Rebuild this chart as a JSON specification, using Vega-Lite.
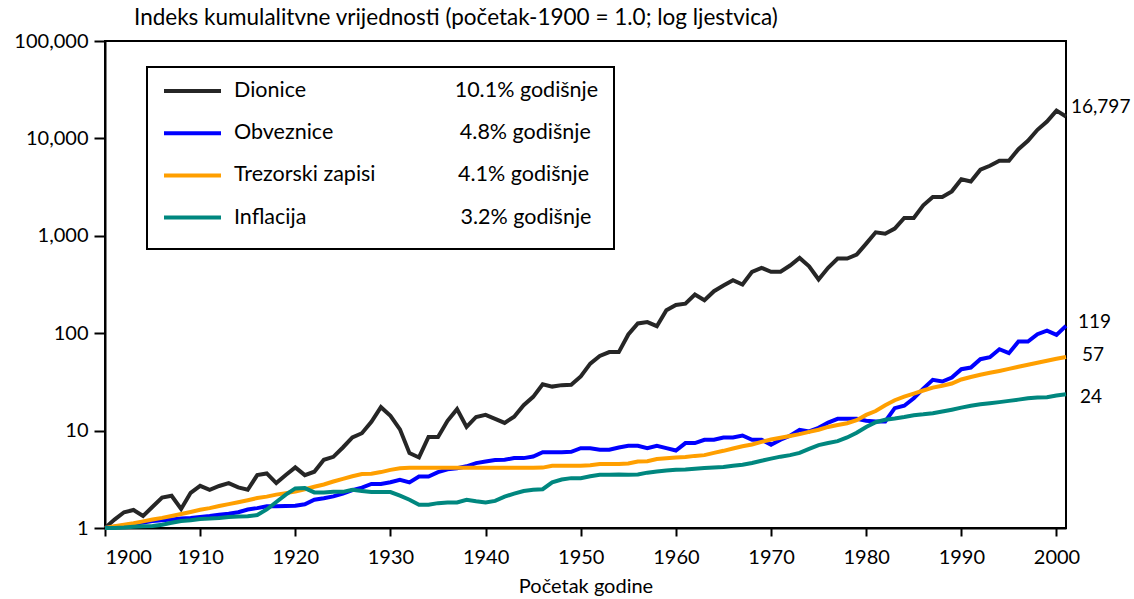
{
  "$schema": "https://vega.github.io/schema/vega-lite/v6.json",
  "width": 961,
  "height": 487,
  "autosize": "none",
  "padding": {"left": 105, "top": 41, "right": 68, "bottom": 71},
  "background": "white",
  "config": {
    "font": "Lato",
    "view": {"stroke": "black", "strokeWidth": 2},
    "axis": {"domainColor": "black", "domainWidth": 2, "tickColor": "black", "tickWidth": 2, "labelColor": "black", "labelFont": "Lato", "labelFontSize": 20, "titleFont": "Lato", "titleFontSize": 20, "titleFontWeight": "normal", "titleColor": "black", "grid": false},
    "legend": {
      "orient": "none", "legendX": 42, "legendY": 26,
      "strokeColor": "black", "strokeWidth": 2, "padding": 15,
      "symbolType": "stroke", "symbolSize": 3249, "symbolStrokeWidth": 4,
      "clipHeight": 18, "rowPadding": 20.2, "labelOffset": 11,
      "labelFontSize": 21.5, "labelFont": "Lato", "labelColor": "black", "labelLimit": 600,
      "titleOrient": "bottom", "titleFontSize": 6, "titlePadding": 0
    }
  },
  "title": {"text": "Indeks kumulalitvne vrijednosti (početak-1900 = 1.0; log ljestvica)", "anchor": "start", "frame": "group", "dx": 29, "offset": 2, "fontSize": 22.5, "fontWeight": "normal", "font": "Lato", "color": "black"},
  "data": {"values": [
    {"year":1900,"Dionice":1,"Obveznice":1,"Trezorski zapisi":1,"Inflacija":1},
    {"year":1901,"Dionice":1.22,"Obveznice":1.03,"Trezorski zapisi":1.04,"Inflacija":1.0},
    {"year":1902,"Dionice":1.45,"Obveznice":1.06,"Trezorski zapisi":1.08,"Inflacija":1.01},
    {"year":1903,"Dionice":1.53,"Obveznice":1.1,"Trezorski zapisi":1.12,"Inflacija":1.03},
    {"year":1904,"Dionice":1.33,"Obveznice":1.14,"Trezorski zapisi":1.17,"Inflacija":1.04},
    {"year":1905,"Dionice":1.65,"Obveznice":1.18,"Trezorski zapisi":1.22,"Inflacija":1.05},
    {"year":1906,"Dionice":2.05,"Obveznice":1.2,"Trezorski zapisi":1.27,"Inflacija":1.08},
    {"year":1907,"Dionice":2.14,"Obveznice":1.22,"Trezorski zapisi":1.33,"Inflacija":1.13},
    {"year":1908,"Dionice":1.57,"Obveznice":1.25,"Trezorski zapisi":1.39,"Inflacija":1.18},
    {"year":1909,"Dionice":2.3,"Obveznice":1.27,"Trezorski zapisi":1.46,"Inflacija":1.2},
    {"year":1910,"Dionice":2.71,"Obveznice":1.3,"Trezorski zapisi":1.54,"Inflacija":1.24},
    {"year":1911,"Dionice":2.47,"Obveznice":1.33,"Trezorski zapisi":1.6,"Inflacija":1.25},
    {"year":1912,"Dionice":2.7,"Obveznice":1.37,"Trezorski zapisi":1.68,"Inflacija":1.27},
    {"year":1913,"Dionice":2.89,"Obveznice":1.4,"Trezorski zapisi":1.76,"Inflacija":1.3},
    {"year":1914,"Dionice":2.61,"Obveznice":1.45,"Trezorski zapisi":1.84,"Inflacija":1.31},
    {"year":1915,"Dionice":2.47,"Obveznice":1.55,"Trezorski zapisi":1.93,"Inflacija":1.32},
    {"year":1916,"Dionice":3.49,"Obveznice":1.6,"Trezorski zapisi":2.03,"Inflacija":1.36},
    {"year":1917,"Dionice":3.63,"Obveznice":1.67,"Trezorski zapisi":2.1,"Inflacija":1.55},
    {"year":1918,"Dionice":2.89,"Obveznice":1.67,"Trezorski zapisi":2.2,"Inflacija":1.85},
    {"year":1919,"Dionice":3.5,"Obveznice":1.68,"Trezorski zapisi":2.28,"Inflacija":2.2},
    {"year":1920,"Dionice":4.19,"Obveznice":1.69,"Trezorski zapisi":2.37,"Inflacija":2.55},
    {"year":1921,"Dionice":3.49,"Obveznice":1.75,"Trezorski zapisi":2.5,"Inflacija":2.57},
    {"year":1922,"Dionice":3.78,"Obveznice":1.95,"Trezorski zapisi":2.65,"Inflacija":2.32},
    {"year":1923,"Dionice":5.01,"Obveznice":2.02,"Trezorski zapisi":2.8,"Inflacija":2.32},
    {"year":1924,"Dionice":5.38,"Obveznice":2.11,"Trezorski zapisi":3.0,"Inflacija":2.35},
    {"year":1925,"Dionice":6.71,"Obveznice":2.25,"Trezorski zapisi":3.2,"Inflacija":2.35},
    {"year":1926,"Dionice":8.5,"Obveznice":2.45,"Trezorski zapisi":3.4,"Inflacija":2.47},
    {"year":1927,"Dionice":9.4,"Obveznice":2.6,"Trezorski zapisi":3.58,"Inflacija":2.4},
    {"year":1928,"Dionice":12.3,"Obveznice":2.83,"Trezorski zapisi":3.6,"Inflacija":2.34},
    {"year":1929,"Dionice":17.4,"Obveznice":2.83,"Trezorski zapisi":3.75,"Inflacija":2.34},
    {"year":1930,"Dionice":14.2,"Obveznice":2.95,"Trezorski zapisi":3.95,"Inflacija":2.34},
    {"year":1931,"Dionice":10.3,"Obveznice":3.13,"Trezorski zapisi":4.1,"Inflacija":2.15},
    {"year":1932,"Dionice":5.87,"Obveznice":2.94,"Trezorski zapisi":4.15,"Inflacija":1.95},
    {"year":1933,"Dionice":5.3,"Obveznice":3.38,"Trezorski zapisi":4.15,"Inflacija":1.73},
    {"year":1934,"Dionice":8.6,"Obveznice":3.38,"Trezorski zapisi":4.15,"Inflacija":1.73},
    {"year":1935,"Dionice":8.6,"Obveznice":3.75,"Trezorski zapisi":4.15,"Inflacija":1.8},
    {"year":1936,"Dionice":12.6,"Obveznice":4.0,"Trezorski zapisi":4.15,"Inflacija":1.83},
    {"year":1937,"Dionice":16.6,"Obveznice":4.1,"Trezorski zapisi":4.15,"Inflacija":1.83},
    {"year":1938,"Dionice":10.9,"Obveznice":4.3,"Trezorski zapisi":4.15,"Inflacija":1.95},
    {"year":1939,"Dionice":13.8,"Obveznice":4.64,"Trezorski zapisi":4.15,"Inflacija":1.88},
    {"year":1940,"Dionice":14.5,"Obveznice":4.82,"Trezorski zapisi":4.15,"Inflacija":1.83},
    {"year":1941,"Dionice":13.2,"Obveznice":5.0,"Trezorski zapisi":4.15,"Inflacija":1.9},
    {"year":1942,"Dionice":12.0,"Obveznice":5.02,"Trezorski zapisi":4.15,"Inflacija":2.1},
    {"year":1943,"Dionice":13.9,"Obveznice":5.22,"Trezorski zapisi":4.16,"Inflacija":2.25},
    {"year":1944,"Dionice":18.2,"Obveznice":5.22,"Trezorski zapisi":4.16,"Inflacija":2.4},
    {"year":1945,"Dionice":22.2,"Obveznice":5.42,"Trezorski zapisi":4.16,"Inflacija":2.47},
    {"year":1946,"Dionice":29.9,"Obveznice":6.0,"Trezorski zapisi":4.17,"Inflacija":2.5},
    {"year":1947,"Dionice":28.3,"Obveznice":6.0,"Trezorski zapisi":4.35,"Inflacija":2.94},
    {"year":1948,"Dionice":29.3,"Obveznice":6.0,"Trezorski zapisi":4.35,"Inflacija":3.15},
    {"year":1949,"Dionice":29.5,"Obveznice":6.05,"Trezorski zapisi":4.35,"Inflacija":3.25},
    {"year":1950,"Dionice":36,"Obveznice":6.6,"Trezorski zapisi":4.35,"Inflacija":3.25},
    {"year":1951,"Dionice":48.7,"Obveznice":6.6,"Trezorski zapisi":4.4,"Inflacija":3.4},
    {"year":1952,"Dionice":58.3,"Obveznice":6.35,"Trezorski zapisi":4.53,"Inflacija":3.52},
    {"year":1953,"Dionice":64,"Obveznice":6.35,"Trezorski zapisi":4.53,"Inflacija":3.52},
    {"year":1954,"Dionice":64,"Obveznice":6.71,"Trezorski zapisi":4.55,"Inflacija":3.55},
    {"year":1955,"Dionice":97,"Obveznice":6.98,"Trezorski zapisi":4.6,"Inflacija":3.52},
    {"year":1956,"Dionice":126,"Obveznice":6.98,"Trezorski zapisi":4.82,"Inflacija":3.55},
    {"year":1957,"Dionice":130,"Obveznice":6.61,"Trezorski zapisi":4.85,"Inflacija":3.7},
    {"year":1958,"Dionice":118,"Obveznice":6.98,"Trezorski zapisi":5.1,"Inflacija":3.8},
    {"year":1959,"Dionice":172,"Obveznice":6.61,"Trezorski zapisi":5.2,"Inflacija":3.9},
    {"year":1960,"Dionice":195,"Obveznice":6.25,"Trezorski zapisi":5.3,"Inflacija":3.96},
    {"year":1961,"Dionice":201,"Obveznice":7.45,"Trezorski zapisi":5.35,"Inflacija":3.98},
    {"year":1962,"Dionice":250,"Obveznice":7.45,"Trezorski zapisi":5.5,"Inflacija":4.05},
    {"year":1963,"Dionice":218,"Obveznice":8.05,"Trezorski zapisi":5.6,"Inflacija":4.12},
    {"year":1964,"Dionice":270,"Obveznice":8.05,"Trezorski zapisi":5.9,"Inflacija":4.19},
    {"year":1965,"Dionice":309,"Obveznice":8.5,"Trezorski zapisi":6.2,"Inflacija":4.22},
    {"year":1966,"Dionice":350,"Obveznice":8.5,"Trezorski zapisi":6.55,"Inflacija":4.35},
    {"year":1967,"Dionice":316,"Obveznice":8.9,"Trezorski zapisi":6.9,"Inflacija":4.46},
    {"year":1968,"Dionice":427,"Obveznice":8.05,"Trezorski zapisi":7.2,"Inflacija":4.65},
    {"year":1969,"Dionice":469,"Obveznice":8.05,"Trezorski zapisi":7.65,"Inflacija":4.9},
    {"year":1970,"Dionice":427,"Obveznice":7.15,"Trezorski zapisi":8.1,"Inflacija":5.15},
    {"year":1971,"Dionice":427,"Obveznice":8.05,"Trezorski zapisi":8.45,"Inflacija":5.4},
    {"year":1972,"Dionice":495,"Obveznice":8.85,"Trezorski zapisi":8.8,"Inflacija":5.6},
    {"year":1973,"Dionice":593,"Obveznice":10.2,"Trezorski zapisi":9.2,"Inflacija":5.9},
    {"year":1974,"Dionice":487,"Obveznice":9.8,"Trezorski zapisi":9.7,"Inflacija":6.5},
    {"year":1975,"Dionice":356,"Obveznice":10.7,"Trezorski zapisi":10.2,"Inflacija":7.1},
    {"year":1976,"Dionice":469,"Obveznice":12.1,"Trezorski zapisi":10.9,"Inflacija":7.45},
    {"year":1977,"Dionice":583,"Obveznice":13.2,"Trezorski zapisi":11.4,"Inflacija":7.8},
    {"year":1978,"Dionice":583,"Obveznice":13.2,"Trezorski zapisi":11.9,"Inflacija":8.5},
    {"year":1979,"Dionice":640,"Obveznice":13.2,"Trezorski zapisi":12.8,"Inflacija":9.5},
    {"year":1980,"Dionice":830,"Obveznice":12.6,"Trezorski zapisi":14.5,"Inflacija":10.9},
    {"year":1981,"Dionice":1086,"Obveznice":12.4,"Trezorski zapisi":15.9,"Inflacija":12.2},
    {"year":1982,"Dionice":1050,"Obveznice":12.4,"Trezorski zapisi":18.2,"Inflacija":12.9},
    {"year":1983,"Dionice":1185,"Obveznice":17.0,"Trezorski zapisi":20.5,"Inflacija":13.3},
    {"year":1984,"Dionice":1525,"Obveznice":18.0,"Trezorski zapisi":22.3,"Inflacija":13.8},
    {"year":1985,"Dionice":1525,"Obveznice":21.5,"Trezorski zapisi":24.0,"Inflacija":14.4},
    {"year":1986,"Dionice":2055,"Obveznice":27,"Trezorski zapisi":25.8,"Inflacija":14.7},
    {"year":1987,"Dionice":2500,"Obveznice":33.2,"Trezorski zapisi":27.6,"Inflacija":15.1},
    {"year":1988,"Dionice":2500,"Obveznice":31.9,"Trezorski zapisi":28.9,"Inflacija":15.7},
    {"year":1989,"Dionice":2860,"Obveznice":35.1,"Trezorski zapisi":30.4,"Inflacija":16.4},
    {"year":1990,"Dionice":3800,"Obveznice":42.7,"Trezorski zapisi":33.5,"Inflacija":17.2},
    {"year":1991,"Dionice":3610,"Obveznice":44.4,"Trezorski zapisi":35.5,"Inflacija":18.0},
    {"year":1992,"Dionice":4770,"Obveznice":54.1,"Trezorski zapisi":37.5,"Inflacija":18.6},
    {"year":1993,"Dionice":5240,"Obveznice":56.7,"Trezorski zapisi":39.2,"Inflacija":19.1},
    {"year":1994,"Dionice":5890,"Obveznice":68.5,"Trezorski zapisi":41.0,"Inflacija":19.6},
    {"year":1995,"Dionice":5890,"Obveznice":62.4,"Trezorski zapisi":43.0,"Inflacija":20.2},
    {"year":1996,"Dionice":7760,"Obveznice":82,"Trezorski zapisi":45.2,"Inflacija":20.8},
    {"year":1997,"Dionice":9440,"Obveznice":82,"Trezorski zapisi":47.5,"Inflacija":21.5},
    {"year":1998,"Dionice":12250,"Obveznice":97.7,"Trezorski zapisi":49.8,"Inflacija":21.9},
    {"year":1999,"Dionice":14900,"Obveznice":106,"Trezorski zapisi":52.2,"Inflacija":22.0},
    {"year":2000,"Dionice":19300,"Obveznice":96,"Trezorski zapisi":54.6,"Inflacija":22.9},
    {"year":2001,"Dionice":16797,"Obveznice":119,"Trezorski zapisi":57,"Inflacija":23.6}
  ]},
  "transform": [{"fold": ["Dionice", "Obveznice", "Trezorski zapisi", "Inflacija"], "as": ["series", "value"]}],
  "encoding": {
    "x": {"field": "year", "type": "quantitative", "scale": {"domain": [1900, 2001], "nice": false, "zero": false},
      "axis": {"values": [1900, 1910, 1920, 1930, 1940, 1950, 1960, 1970, 1980, 1990, 2000], "format": "d", "tickSize": 8, "labelPadding": 11, "title": "Početak godine", "titlePadding": 9}},
    "y": {"field": "value", "type": "quantitative", "scale": {"type": "log", "domain": [1, 100000], "nice": false},
      "axis": {"values": [1, 10, 100, 1000, 10000, 100000], "format": ",", "tickSize": 11, "labelPadding": 6, "title": null}}
  },
  "layer": [
    {
      "mark": {"type": "line", "strokeWidth": 4},
      "encoding": {
        "color": {"field": "series", "type": "nominal", "sort": ["Dionice", "Obveznice", "Trezorski zapisi", "Inflacija"],
          "scale": {"domain": ["Dionice", "Obveznice", "Trezorski zapisi", "Inflacija"], "range": ["#262626", "#0000FF", "#FF9F00", "#00877F"]},
          "legend": {"title": "\u00a0", "labelExpr": "datum.label == 'Dionice' ? pad('Dionice', 34, '\u00a0') + '10.1% godišnje\u00a0\u00a0' : datum.label == 'Obveznice' ? pad('\u00a0Obveznice', 33, '\u00a0') + '4.8% godišnje' : datum.label == 'Trezorski zapisi' ? pad('Trezorski zapisi', 31, '\u00a0') + '4.1% godišnje' : pad('Inflacija', 37, '\u00a0') + '3.2% godišnje'"}}
      }
    },
    {
      "transform": [{"filter": "datum.year == 2001 && datum.series == 'Dionice'"}],
      "mark": {"type": "text", "align": "left", "dx": 5, "dy": -9, "fontSize": 19, "font": "Lato", "color": "black"},
      "encoding": {"text": {"field": "value", "type": "quantitative", "format": ",.0f"}}
    },
    {
      "transform": [{"filter": "datum.year == 2001 && datum.series == 'Obveznice'"}],
      "mark": {"type": "text", "align": "left", "dx": 12, "dy": -4, "fontSize": 19, "font": "Lato", "color": "black"},
      "encoding": {"text": {"field": "value", "type": "quantitative", "format": ",.0f"}}
    },
    {
      "transform": [{"filter": "datum.year == 2001 && datum.series == 'Trezorski zapisi'"}],
      "mark": {"type": "text", "align": "left", "dx": 16, "dy": -2, "fontSize": 19, "font": "Lato", "color": "black"},
      "encoding": {"text": {"field": "value", "type": "quantitative", "format": ",.0f"}}
    },
    {
      "transform": [{"filter": "datum.year == 2001 && datum.series == 'Inflacija'"}],
      "mark": {"type": "text", "align": "left", "dx": 14, "dy": 3, "fontSize": 19, "font": "Lato", "color": "black"},
      "encoding": {"text": {"field": "value", "type": "quantitative", "format": ",.0f"}}
    }
  ]
}
